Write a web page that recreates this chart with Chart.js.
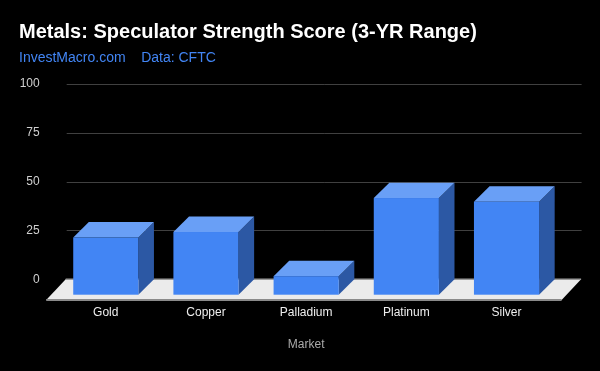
<!DOCTYPE html>
<html lang="en">
<head>
    <meta charset="UTF-8" />
    <title>Metals: Speculator Strength Score</title>
    <script src="https://cdn.jsdelivr.net/npm/chart.js"></script>
    <style>
        html, body {
            margin: 0;
            padding: 0;
            background: #000;
            overflow: hidden;
        }
        #chart {
            display: block;
        }
    </style>
</head>
<body>
<canvas id="chart" width="600" height="371"></canvas>

<script>
// Data
const markets = ['Gold', 'Copper', 'Palladium', 'Platinum', 'Silver'];
const scores = [29.3, 32.1, 9.5, 49.5, 47.6];
const yTicks = [0, 25, 50, 75, 100];

const FONT = '"Liberation Sans", Arial, sans-serif';

// fake 3D look: bars and floor are pushed back up/right
const barDepth = { dx: 15.6, dy: 15.4 };
const floorDepth = { dx: 19.5, dy: 20.7 };

const box3d = {
    id: 'box3d',
    beforeDatasetsDraw(chart) {
        const { ctx, chartArea } = chart;
        const y = chart.scales.y;
        ctx.save();

        // grid lines on the back wall
        ctx.strokeStyle = '#404040';
        ctx.lineWidth = 1;
        yTicks.forEach(t => {
            if (t === 0) return;
            const py = Math.round(y.getPixelForValue(t)) + 0.5;
            ctx.beginPath();
            ctx.moveTo(chartArea.left + 11, py);
            ctx.lineTo(chartArea.right + 25, py);
            ctx.stroke();
        });

        // floor
        const by = y.getPixelForValue(0);
        const fy = by + floorDepth.dy;
        const bl = chartArea.left + 10, br = chartArea.right + 24.5;
        const fl = bl - floorDepth.dx, fr = br - floorDepth.dx;
        ctx.fillStyle = '#ebebeb';
        ctx.beginPath();
        ctx.moveTo(bl, by);
        ctx.lineTo(br, by);
        ctx.lineTo(fr, fy);
        ctx.lineTo(fl, fy);
        ctx.closePath();
        ctx.fill();

        ctx.strokeStyle = '#9a9a9a';
        ctx.lineWidth = 1.5;
        ctx.beginPath();
        ctx.moveTo(bl, by);
        ctx.lineTo(br, by);
        ctx.stroke();

        ctx.strokeStyle = '#8a8a8a';
        ctx.lineWidth = 2;
        ctx.beginPath();
        ctx.moveTo(fl, fy);
        ctx.lineTo(fr, fy);
        ctx.stroke();

        ctx.restore();
    },
    afterDatasetsDraw(chart) {
        const { ctx } = chart;
        const meta = chart.getDatasetMeta(0);
        const { dx, dy } = barDepth;
        ctx.save();
        meta.data.forEach(bar => {
            const { x, y, base, width } = bar.getProps(['x', 'y', 'base', 'width'], true);
            const x0 = x - width / 2, x1 = x + width / 2;
            const y0 = y + dy, y1 = base + dy;

            // side
            ctx.fillStyle = '#2c58a4';
            ctx.beginPath();
            ctx.moveTo(x1, y0);
            ctx.lineTo(x1 + dx, y);
            ctx.lineTo(x1 + dx, base);
            ctx.lineTo(x1, y1);
            ctx.closePath();
            ctx.fill();

            // top
            ctx.fillStyle = '#699ff6';
            ctx.beginPath();
            ctx.moveTo(x0, y0);
            ctx.lineTo(x1, y0);
            ctx.lineTo(x1 + dx, y);
            ctx.lineTo(x0 + dx, y);
            ctx.closePath();
            ctx.fill();

            // front
            ctx.fillStyle = '#4285f4';
            ctx.fillRect(x0, y0, width, y1 - y0);
        });
        ctx.restore();
    }
};

const ctx = document.getElementById('chart').getContext('2d');
new Chart(ctx, {
    type: 'bar',
    data: {
        labels: markets,
        datasets: [{
            data: scores,
            backgroundColor: 'rgba(0,0,0,0)',
            borderWidth: 0,
            barPercentage: 0.65,
            categoryPercentage: 1
        }]
    },
    options: {
        responsive: false,
        devicePixelRatio: 1,
        animation: false,
        layout: {
            padding: { left: 19, right: 43.4, top: 0, bottom: 0 }
        },
        plugins: {
            legend: { display: false },
            tooltip: { enabled: false },
            title: {
                display: true,
                text: 'Metals: Speculator Strength Score (3-YR Range)',
                align: 'start',
                color: '#ffffff',
                font: { family: FONT, size: 20, weight: 'bold' },
                padding: { top: 20, bottom: 0 }
            },
            subtitle: {
                display: true,
                text: 'InvestMacro.com    Data: CFTC',
                align: 'start',
                color: '#4285f4',
                font: { family: FONT, size: 14 },
                padding: { top: 5.6, bottom: 17.6 }
            }
        },
        scales: {
            x: {
                grid: { display: false, drawTicks: false },
                border: { display: false },
                ticks: {
                    color: '#eeeeee',
                    font: { family: FONT, size: 12 },
                    padding: 26
                },
                title: {
                    display: true,
                    text: 'Market',
                    color: '#ababab',
                    font: { family: FONT, size: 12 },
                    padding: { top: 0, bottom: 19.5 }
                },
                afterFit(scale) {
                    scale.height = 91.7;
                }
            },
            y: {
                min: 0,
                max: 100,
                grid: { display: false, drawTicks: false },
                border: { display: false },
                ticks: {
                    stepSize: 25,
                    color: '#d0d0d0',
                    font: { family: FONT, size: 12 },
                    padding: 16
                },
                afterFit(scale) {
                    scale.width = 36.7;
                }
            }
        }
    },
    plugins: [box3d]
});
</script>
</body>
</html>
